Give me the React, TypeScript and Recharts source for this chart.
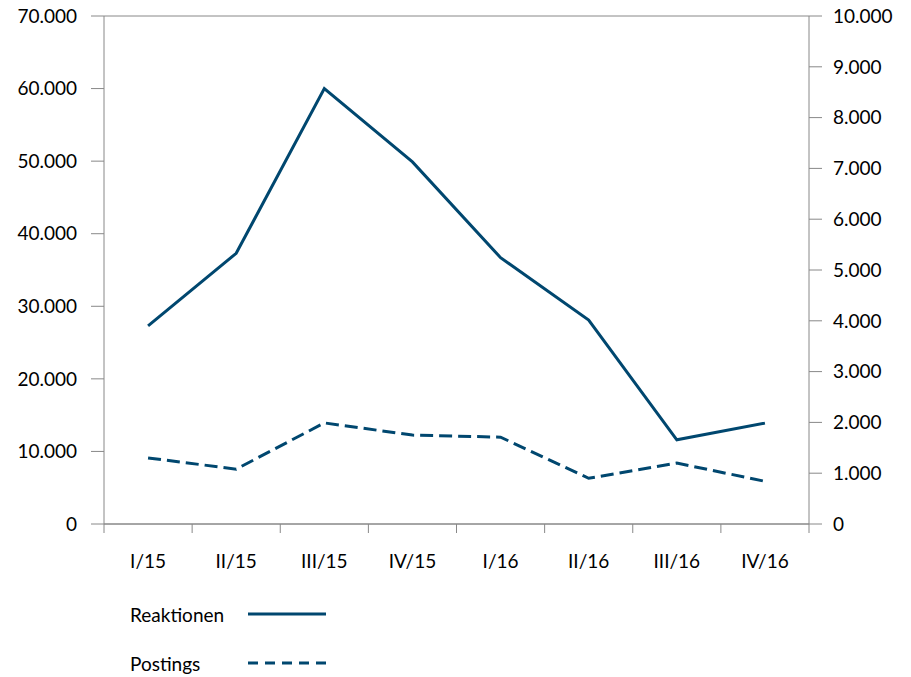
import { LineChart, Line, XAxis, YAxis, CartesianGrid, Legend } from 'recharts'

const quarters = ['I/15', 'II/15', 'III/15', 'IV/15', 'I/16', 'II/16', 'III/16', 'IV/16']
const reaktionen = [27300, 37300, 60000, 49900, 36700, 28100, 11600, 13900]
const postings = [1300, 1080, 1990, 1750, 1710, 900, 1200, 840]
const leftTicks = [0, 10000, 20000, 30000, 40000, 50000, 60000, 70000]
const rightTicks = [0, 1000, 2000, 3000, 4000, 5000, 6000, 7000, 8000, 9000, 10000]

const LINE = '#00476f'
const GRID = '#888888'
const FONT = 'Lato, "Open Sans", sans-serif'

const data = quarters.map((q, i) => ({
  pos: i + 0.5,
  quarter: q,
  reaktionen: reaktionen[i],
  postings: postings[i],
}))

const fmt = (v: number) => v.toLocaleString('de-DE')
const boundaryTicks = quarters.map((_, i) => i).concat(quarters.length)
const centerTicks = quarters.map((_, i) => i + 0.5)

const tickStyle = { fontSize: 19, fill: '#000', fontFamily: FONT }

const LegendContent = () => (
  <div style={{ fontFamily: FONT, fontSize: 19, color: '#000', paddingLeft: 130, paddingTop: 25 }}>
    {[
      { name: 'Reaktionen', dash: undefined as string | undefined },
      { name: 'Postings', dash: '10 7' },
    ].map((item, i) => (
      <div key={item.name} style={{ display: 'flex', alignItems: 'center', height: 30, marginTop: i === 0 ? 0 : 19 }}>
        <span style={{ width: 118 }}>{item.name}</span>
        <svg width={78} height={6}>
          <line x1={0} y1={3} x2={78} y2={3} stroke={LINE} strokeWidth={3} strokeDasharray={item.dash} />
        </svg>
      </div>
    ))}
  </div>
)

export default function App() {
  return (
    <div style={{ margin: '-8px -8px 0 -8px', background: '#fff' }}>
      <LineChart width={911} height={677} data={data} margin={{ top: 16, right: 0, bottom: 0, left: 0 }}>
        <CartesianGrid vertical={false} stroke={GRID} />
        <XAxis
          xAxisId="b"
          type="number"
          dataKey="pos"
          domain={[0, quarters.length]}
          ticks={boundaryTicks}
          tickFormatter={() => ''}
          tickSize={9}
          height={10}
          stroke={GRID}
          interval={0}
        />
        <XAxis
          xAxisId="c"
          type="number"
          dataKey="pos"
          domain={[0, quarters.length]}
          ticks={centerTicks}
          tickFormatter={(v: number) => quarters[Math.round(v - 0.5)]}
          axisLine={false}
          tickLine={false}
          tickSize={0}
          tickMargin={21}
          height={40}
          tick={tickStyle}
          interval={0}
        />
        <YAxis
          yAxisId="left"
          domain={[0, 70000]}
          ticks={leftTicks}
          tickFormatter={fmt}
          width={104}
          tickSize={13}
          tickMargin={14}
          stroke={GRID}
          tick={tickStyle}
          interval={0}
        />
        <YAxis
          yAxisId="right"
          orientation="right"
          domain={[0, 10000]}
          ticks={rightTicks}
          tickFormatter={fmt}
          width={102}
          tickSize={13}
          tickMargin={11}
          stroke={GRID}
          tick={{ ...tickStyle, textAnchor: 'start' }}
          interval={0}
        />
        <Legend verticalAlign="bottom" align="left" height={103} content={<LegendContent />} />
        <Line
          xAxisId="b"
          yAxisId="left"
          dataKey="reaktionen"
          name="Reaktionen"
          stroke={LINE}
          strokeWidth={3}
          dot={false}
          isAnimationActive={false}
        />
        <Line
          xAxisId="b"
          yAxisId="right"
          dataKey="postings"
          name="Postings"
          stroke={LINE}
          strokeWidth={3}
          strokeDasharray="13 6"
          dot={false}
          isAnimationActive={false}
        />
      </LineChart>
    </div>
  )
}
